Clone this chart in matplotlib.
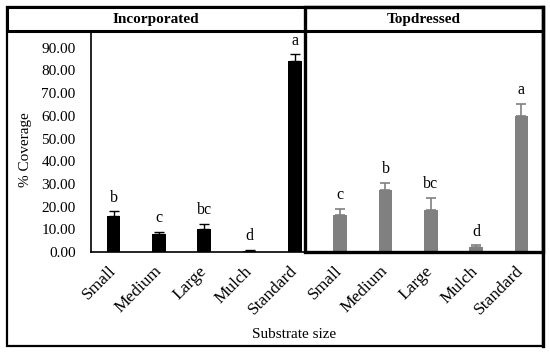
import matplotlib
matplotlib.use("Agg")
import matplotlib.pyplot as plt
from matplotlib.patches import Rectangle
from matplotlib.lines import Line2D

# data
categories = ["Small", "Medium", "Large", "Mulch", "Standard"]
incorporated = [15.9, 8.0, 10.3, 0.6, 84.2]
incorporated_err = [2.0, 1.0, 2.1, 0.4, 2.9]
incorporated_letters = ["b", "c", "bc", "d", "a"]
topdressed = [16.2, 27.5, 18.6, 2.3, 60.1]
topdressed_err = [2.9, 3.1, 5.3, 0.6, 5.3]
topdressed_letters = ["c", "b", "bc", "d", "a"]

W, H = 550, 353
plt.rcParams['font.family'] = ['Liberation Serif', 'DejaVu Serif']

fig = plt.figure(figsize=(W / 100, H / 100), dpi=100)


def fx(px):
    return px / W


def fy(py):
    return 1 - py / H


# axis area in pixels (top-left origin)
ax_l, ax_r, ax_t, ax_b = 91, 544, 31, 252
ax = fig.add_axes([fx(ax_l), fy(ax_b), fx(ax_r - ax_l), (ax_b - ax_t) / H])

n = len(categories)
x_inc = list(range(n))
x_top = list(range(n, 2 * n))

ax.bar(x_inc, incorporated, width=0.3, color="black", zorder=2)
ax.errorbar(x_inc, incorporated, yerr=[[0] * n, incorporated_err], fmt="none",
            ecolor="black", elinewidth=1, capsize=3.5, capthick=1, zorder=3)
ax.bar(x_top, topdressed, width=0.3, color="#808080", zorder=2)
ax.errorbar(x_top, topdressed, yerr=[[0] * n, topdressed_err], fmt="none",
            ecolor="#808080", elinewidth=1.2, capsize=3.5, capthick=1.2, zorder=3)

for xs, vals, errs, letters in [(x_inc, incorporated, incorporated_err, incorporated_letters),
                                (x_top, topdressed, topdressed_err, topdressed_letters)]:
    for xi, v, e, lt in zip(xs, vals, errs, letters):
        ax.annotate(lt, (xi, v + e), xytext=(0, 4), textcoords="offset points",
                    ha="center", va="bottom", fontsize=11.5)

ax.set_xlim(-0.5, 2 * n - 0.5)
ax.set_ylim(0, (ax_b - ax_t) / 2.27)
ax.set_yticks([i * 10 for i in range(10)])
ax.set_yticklabels([f"{i * 10:.2f}" for i in range(10)], fontsize=11)
ax.set_xticks(x_inc + x_top)
ax.set_xticklabels(categories + categories, fontsize=12.5, rotation=45,
                   ha="right", va="center", rotation_mode="anchor")
ax.tick_params(axis="y", length=0, pad=11)
ax.tick_params(axis="x", length=0, pad=12)
for s in ["top", "right"]:
    ax.spines[s].set_visible(False)
ax.spines["left"].set_linewidth(1.2)
ax.spines["bottom"].set_linewidth(1.2)

fig.text(fx(26), fy(150), "% Coverage", rotation=90, ha="center", va="center", fontsize=11)
fig.text(fx(294), fy(335), "Substrate size", ha="center", va="center", fontsize=11)

# frame: outer box, header row, divider and box around the topdressed part
left, right, top, bottom, div = 7, 543, 7, 346, 305
fig.add_artist(Rectangle((fx(left), fy(bottom)), fx(right - left), (bottom - top) / H,
                         fill=False, edgecolor="black", linewidth=1.6, zorder=5))
fig.add_artist(Rectangle((fx(left), fy(ax_t)), fx(right - left), (ax_t - top) / H,
                         facecolor="white", edgecolor="black", linewidth=2.2, zorder=5))
fig.add_artist(Rectangle((fx(div), fy(ax_b)), fx(right - div), (ax_b - top) / H,
                         fill=False, edgecolor="black", linewidth=2.4, zorder=6))
fig.add_artist(Line2D([fx(right), fx(right)], [fy(top), fy(bottom)],
                      color="black", linewidth=2.4, zorder=6))

fig.text(fx((left + div) / 2), fy(19), "Incorporated", ha="center", va="center",
         fontsize=11, fontweight="bold", zorder=7)
fig.text(fx((div + right) / 2), fy(19), "Topdressed", ha="center", va="center",
         fontsize=11, fontweight="bold", zorder=7)

fig.savefig("out.png", dpi=100)
